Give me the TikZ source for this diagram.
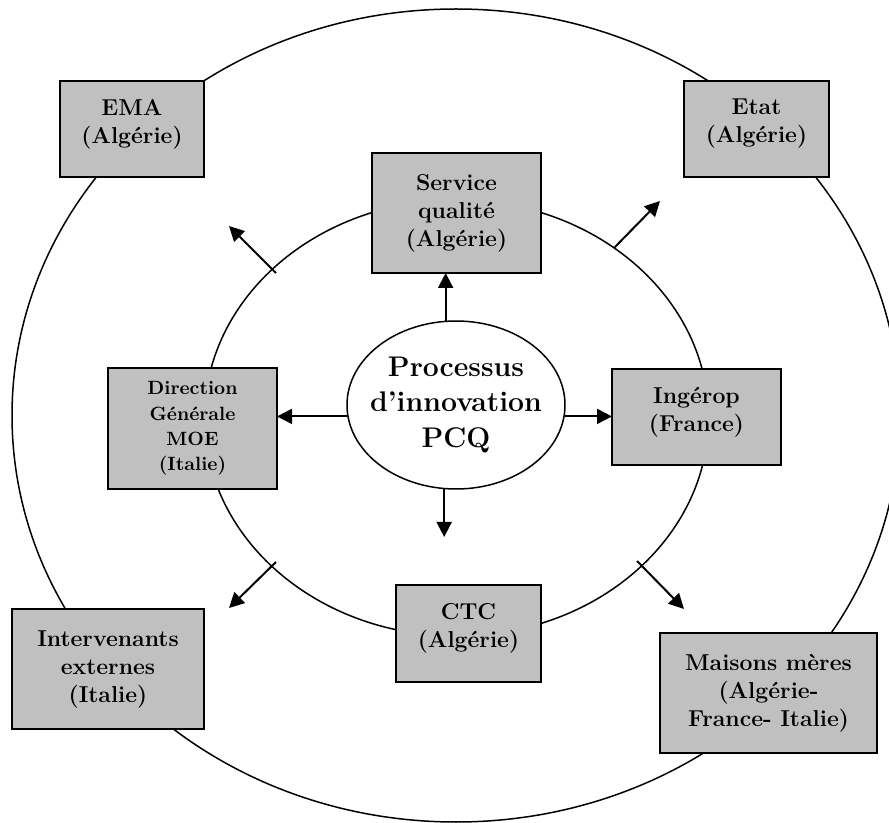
\documentclass[tikz,border=0pt]{standalone}
\usetikzlibrary{shapes.geometric,arrows.meta}
\definecolor{boxgray}{HTML}{C0C0C0}
\newcommand{\bx}{\bfseries\fontsize{11.5}{14}\selectfont}
\newcommand{\bxsmall}{\bfseries\fontsize{9.6}{12.6}\selectfont}
\newcommand{\bxbig}{\bfseries\fontsize{14.2}{17.6}\selectfont}

\begin{document}
\begin{tikzpicture}[x=0.5pt,y=-0.5pt]
    \tikzstyle{actor}=[draw, line width=1pt, fill=boxgray, align=center, inner sep=0pt, outer sep=0pt, font=\bx]
    \tikzstyle{twoline}=[text depth=8pt]
    \tikzstyle{ring}=[line width=0.75pt]
    \tikzstyle{flow}=[line width=1pt, -{Triangle[length=7.5pt,width=7.5pt]}]
    \useasboundingbox (0,0) rectangle (889,823);
    \draw[ring] (456,415.5) ellipse [x radius=444, y radius=406.5];
    \draw[ring] (456.5,418) ellipse [x radius=252, y radius=218];
    \node[actor, twoline, minimum width=72pt, minimum height=48pt] (ema) at (132,129) {EMA\\(Algérie)};
    \node[actor, twoline, minimum width=72.5pt, minimum height=48pt] (etat) at (756.5,129) {Etat\\(Algérie)};
    \node[actor, minimum width=84.5pt, minimum height=60pt] (srv) at (456.5,213) {Service\\qualité\\(Algérie)};
    \node[actor, font=\bxsmall, minimum width=84.5pt, minimum height=60.5pt] (dir) at (192.5,428.5) {Direction\\Générale\\MOE\\(Italie)};
    \node[actor, twoline, minimum width=84.5pt, minimum height=48pt] (ing) at (696.5,417) {Ingérop\\(France)};
    \node[actor, twoline, minimum width=72.5pt, minimum height=48.5pt] (ctc) at (468.5,633.5) {CTC\\(Algérie)};
    \node[actor, minimum width=96pt, minimum height=60pt] (ext) at (108,669) {Intervenants\\externes\\(Italie)};
    \node[actor, minimum width=108.5pt, minimum height=60pt] (mm) at (768.5,693) {Maisons mères\\(Algérie-\\France- Italie)};
    \node[draw, ring, ellipse, fill=white, align=center, font=\bxbig, inner xsep=-12pt, inner ysep=0pt, minimum width=109pt, minimum height=84pt] (proc) at (456,405) {Processus\\d’innovation\\PCQ};
    \coordinate (pcqout) at (444,537);
    \draw[flow] (proc.97) -- (proc.97 |- srv.south);
    \draw[flow] (proc.186) -- (proc.186 -| dir.east);
    \draw[flow] (proc.-6) -- (proc.-6 -| ing.west);
    \draw[flow] (proc.262) -- (proc.262 |- pcqout);
    \coordinate (nwa) at (276,273); \coordinate (nwb) at (229,226);
    \coordinate (nea) at (614,248); \coordinate (neb) at (660,201);
    \coordinate (swa) at (276,562); \coordinate (swb) at (229,608);
    \coordinate (sea) at (637,561); \coordinate (seb) at (684,609);
    \draw[flow] (nwa) -- (nwb);
    \draw[flow] (nea) -- (neb);
    \draw[flow] (swa) -- (swb);
    \draw[flow] (sea) -- (seb);
\end{tikzpicture}
\end{document}
